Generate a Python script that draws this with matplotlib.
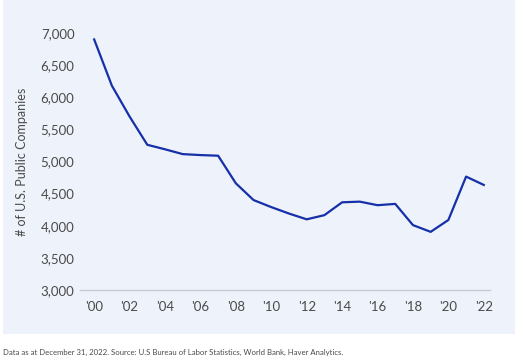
import matplotlib.pyplot as plt
from matplotlib.patches import Rectangle
from matplotlib.ticker import FuncFormatter

years = list(range(2000, 2023))
companies = [6900, 6180, 5700, 5260, 5190, 5115, 5100, 5090, 4660, 4400,
             4290, 4190, 4100, 4165, 4365, 4375, 4320, 4340, 4010, 3905,
             4090, 4765, 4635]

tick_years = list(range(2000, 2023, 2))
tick_labels = ["'%02d" % (y % 100) for y in tick_years]
y_ticks = list(range(3000, 7001, 500))

plt.rcParams['font.family'] = ['Lato', 'DejaVu Sans']

fig = plt.figure(figsize=(5.18, 3.62), dpi=100)

# light panel behind the chart
panel = Rectangle((3 / 518, 28 / 362), 512 / 518, 334 / 362,
                  transform=fig.transFigure, facecolor="#EEF2FA",
                  edgecolor="none", zorder=-5)
fig.add_artist(panel)

ax = fig.add_axes([80 / 518, 72 / 362, 410 / 518, 257 / 362])
ax.set_zorder(2)
ax.set_facecolor("none")
ax.plot(years, companies, color="#1530A8", linewidth=1.6)

ax.set_xlim(1999.2, 2022.35)
ax.set_ylim(3000, 7000)
ax.set_xticks(tick_years)
ax.set_xticklabels(tick_labels)
ax.set_yticks(y_ticks)
ax.yaxis.set_major_formatter(FuncFormatter(lambda v, p: f"{int(v):,}"))

for s in ["top", "right", "left"]:
    ax.spines[s].set_visible(False)
ax.spines["bottom"].set_color("#C5CCD8")
ax.spines["bottom"].set_linewidth(1.0)
ax.tick_params(axis="both", length=0, labelsize=9.5, colors="#4A4A4A")
ax.tick_params(axis="x", pad=8)
ax.tick_params(axis="y", pad=4)

ax.set_ylabel("# of U.S. Public Companies", fontsize=9, color="#4A4A4A", labelpad=9)

fig.text(3 / 518, 1 - 352 / 362, "Data as at December 31, 2022. Source: U.S Bureau of Labor Statistics, World Bank, Haver Analytics.",
         fontsize=5.6, color="#4A4A4A", va="center", ha="left")

fig.savefig("out.png", dpi=100)
